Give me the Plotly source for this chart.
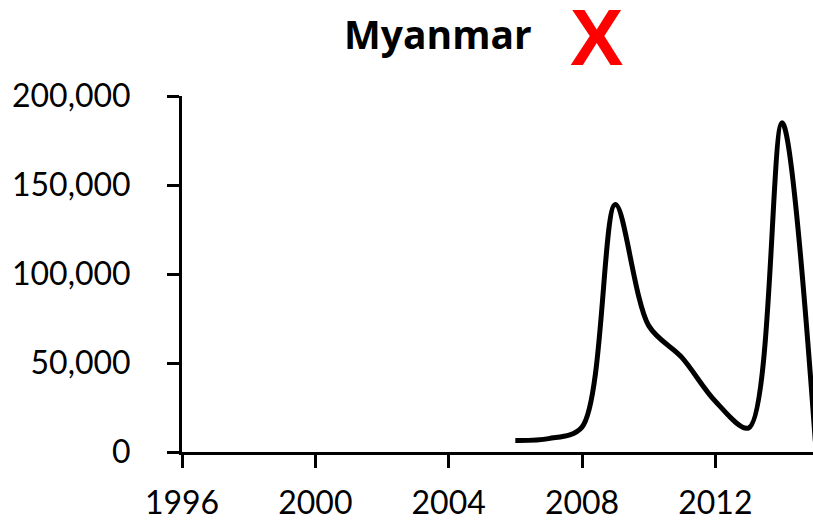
import plotly.graph_objects as go

years = [2006, 2007, 2008, 2009, 2010, 2011, 2012, 2013, 2014, 2015]
values = [6500, 7500, 14000, 139000, 71000, 53000, 28500, 13500, 185000, 6000]
x_ticks = [1996, 2000, 2004, 2008, 2012]
y_ticks = [0, 50000, 100000, 150000, 200000]
y_tick_labels = ["0", "50,000", "100,000", "150,000", "200,000"]
title_text = "Myanmar"
mark_text = "X"

W, H = 813, 520
L, R, T, B = 182, 0, 96, 520 - 452

fig = go.Figure()
fig.add_trace(go.Scatter(
    x=years, y=values, mode="lines",
    line=dict(color="black", width=5, shape="spline", smoothing=0.9),
    hoverinfo="skip", showlegend=False, cliponaxis=True,
))

fig.update_layout(
    width=W, height=H,
    margin=dict(l=L, r=R, t=T, b=B, autoexpand=False),
    paper_bgcolor="white", plot_bgcolor="white",
    font=dict(family="Lato", color="black"),
    xaxis=dict(
        range=[1996, 2014.93], tickmode="array", tickvals=x_ticks,
        ticktext=[str(v) for v in x_ticks], automargin=False,
        showgrid=False, zeroline=False, showline=True, linecolor="black", linewidth=3,
        ticks="outside", ticklen=13, tickwidth=3, tickcolor="black",
        tickfont=dict(size=32, family="Lato"), ticklabelstandoff=8,
    ),
    yaxis=dict(
        range=[0, 200000], tickmode="array", tickvals=y_ticks, ticktext=y_tick_labels,
        automargin=False,
        showgrid=False, zeroline=False, showline=True, linecolor="black", linewidth=3,
        ticks="outside", ticklen=12, tickwidth=3, tickcolor="black",
        tickfont=dict(size=32, family="Lato"), ticklabelstandoff=30,
    ),
)

plot_w = W - L - R
plot_h = H - T - B

def px_to_paper(px, py):
    return (px - L) / plot_w, (H - py - B) / plot_h

tx, ty = px_to_paper(438, 33)
mx, my = px_to_paper(596, 37)
fig.add_annotation(text=title_text, x=tx, y=ty, xref="paper", yref="paper",
                   showarrow=False, xanchor="center", yanchor="middle",
                   font=dict(family="Open Sans", size=39, color="black", weight="bold"))
fig.add_annotation(text=mark_text, x=mx, y=my, xref="paper", yref="paper",
                   showarrow=False, xanchor="center", yanchor="middle",
                   font=dict(family="Liberation Sans", size=80, color="#ff0000", weight="bold"))

fig.write_html(
    "out.html",
    config={"displayModeBar": False},
    post_script="document.body.style.margin='0';document.body.style.overflow='hidden';",
)
